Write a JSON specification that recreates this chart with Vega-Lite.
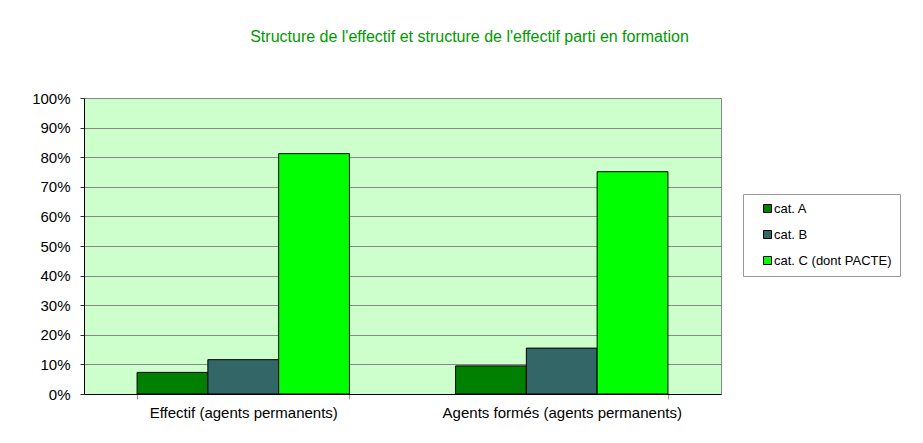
{
  "$schema": "https://vega.github.io/schema/vega-lite/v6.json",
  "autosize": {"type": "none"},
  "padding": {"left": 84, "top": 98, "right": 202, "bottom": 49},
  "width": 637,
  "height": 296,
  "background": "white",
  "title": {
    "text": "Structure de l'effectif et structure de l'effectif parti en formation",
    "font": "Liberation Sans",
    "fontSize": 16,
    "fontWeight": "normal",
    "color": "#009900",
    "anchor": "middle",
    "dx": 67,
    "baseline": "alphabetic",
    "offset": 33
  },
  "data": {
    "values": [
      {"groupe": "Effectif (agents permanents)", "cat": "cat. A", "part": 0.073},
      {"groupe": "Effectif (agents permanents)", "cat": "cat. B", "part": 0.116},
      {"groupe": "Effectif (agents permanents)", "cat": "cat. C (dont PACTE)", "part": 0.812},
      {"groupe": "Agents formés (agents permanents)", "cat": "cat. A", "part": 0.095},
      {"groupe": "Agents formés (agents permanents)", "cat": "cat. B", "part": 0.155},
      {"groupe": "Agents formés (agents permanents)", "cat": "cat. C (dont PACTE)", "part": 0.751}
    ]
  },
  "mark": {"type": "bar", "stroke": "black", "strokeWidth": 1},
  "encoding": {
    "x": {
      "field": "groupe",
      "type": "nominal",
      "sort": ["Effectif (agents permanents)", "Agents formés (agents permanents)"],
      "scale": {"paddingInner": 0.3333, "paddingOuter": 0.1667},
      "axis": {
        "title": null,
        "labelAngle": 0,
        "labelFont": "Liberation Sans",
        "labelFontSize": 15,
        "labelLimit": 400,
        "labelColor": "black",
        "domainColor": "black",
        "tickColor": "#999999",
        "tickSize": 5,
        "tickBand": "extent",
        "labelPadding": 6,
        "grid": false
      }
    },
    "xOffset": {
      "field": "cat",
      "type": "nominal",
      "sort": ["cat. A", "cat. B", "cat. C (dont PACTE)"],
      "scale": {"paddingInner": 0, "paddingOuter": 0}
    },
    "y": {
      "field": "part",
      "type": "quantitative",
      "scale": {"domain": [0, 1], "nice": false},
      "axis": {
        "title": null,
        "format": ".0%",
        "values": [0, 0.1, 0.2, 0.3, 0.4, 0.5, 0.6, 0.7, 0.8, 0.9, 1],
        "labelFont": "Liberation Sans",
        "labelFontSize": 15,
        "labelColor": "black",
        "domainColor": "black",
        "tickColor": "#333333",
        "tickSize": 4,
        "labelPadding": 10,
        "grid": true,
        "gridColor": "#888888",
        "gridOpacity": 1,
        "gridWidth": 1
      }
    },
    "color": {
      "field": "cat",
      "type": "nominal",
      "sort": ["cat. A", "cat. B", "cat. C (dont PACTE)"],
      "scale": {
        "domain": ["cat. A", "cat. B", "cat. C (dont PACTE)"],
        "range": ["#008000", "#336666", "#00FF00"]
      },
      "legend": {
        "title": null,
        "orient": "none",
        "legendX": 659,
        "legendY": 96,
        "symbolType": "square",
        "symbolSize": 64,
        "symbolStrokeColor": "black",
        "symbolStrokeWidth": 1,
        "symbolOpacity": 1,
        "labelFont": "Liberation Sans",
        "labelFontSize": 13,
        "labelColor": "black",
        "labelOffset": 0,
        "rowPadding": 12,
        "padding": 8,
        "symbolOffset": 10,
        "strokeColor": "#999999",
        "fillColor": "white"
      }
    }
  },
  "config": {
    "view": {"fill": "#CCFFCC", "stroke": "#888888", "strokeWidth": 1}
  }
}
